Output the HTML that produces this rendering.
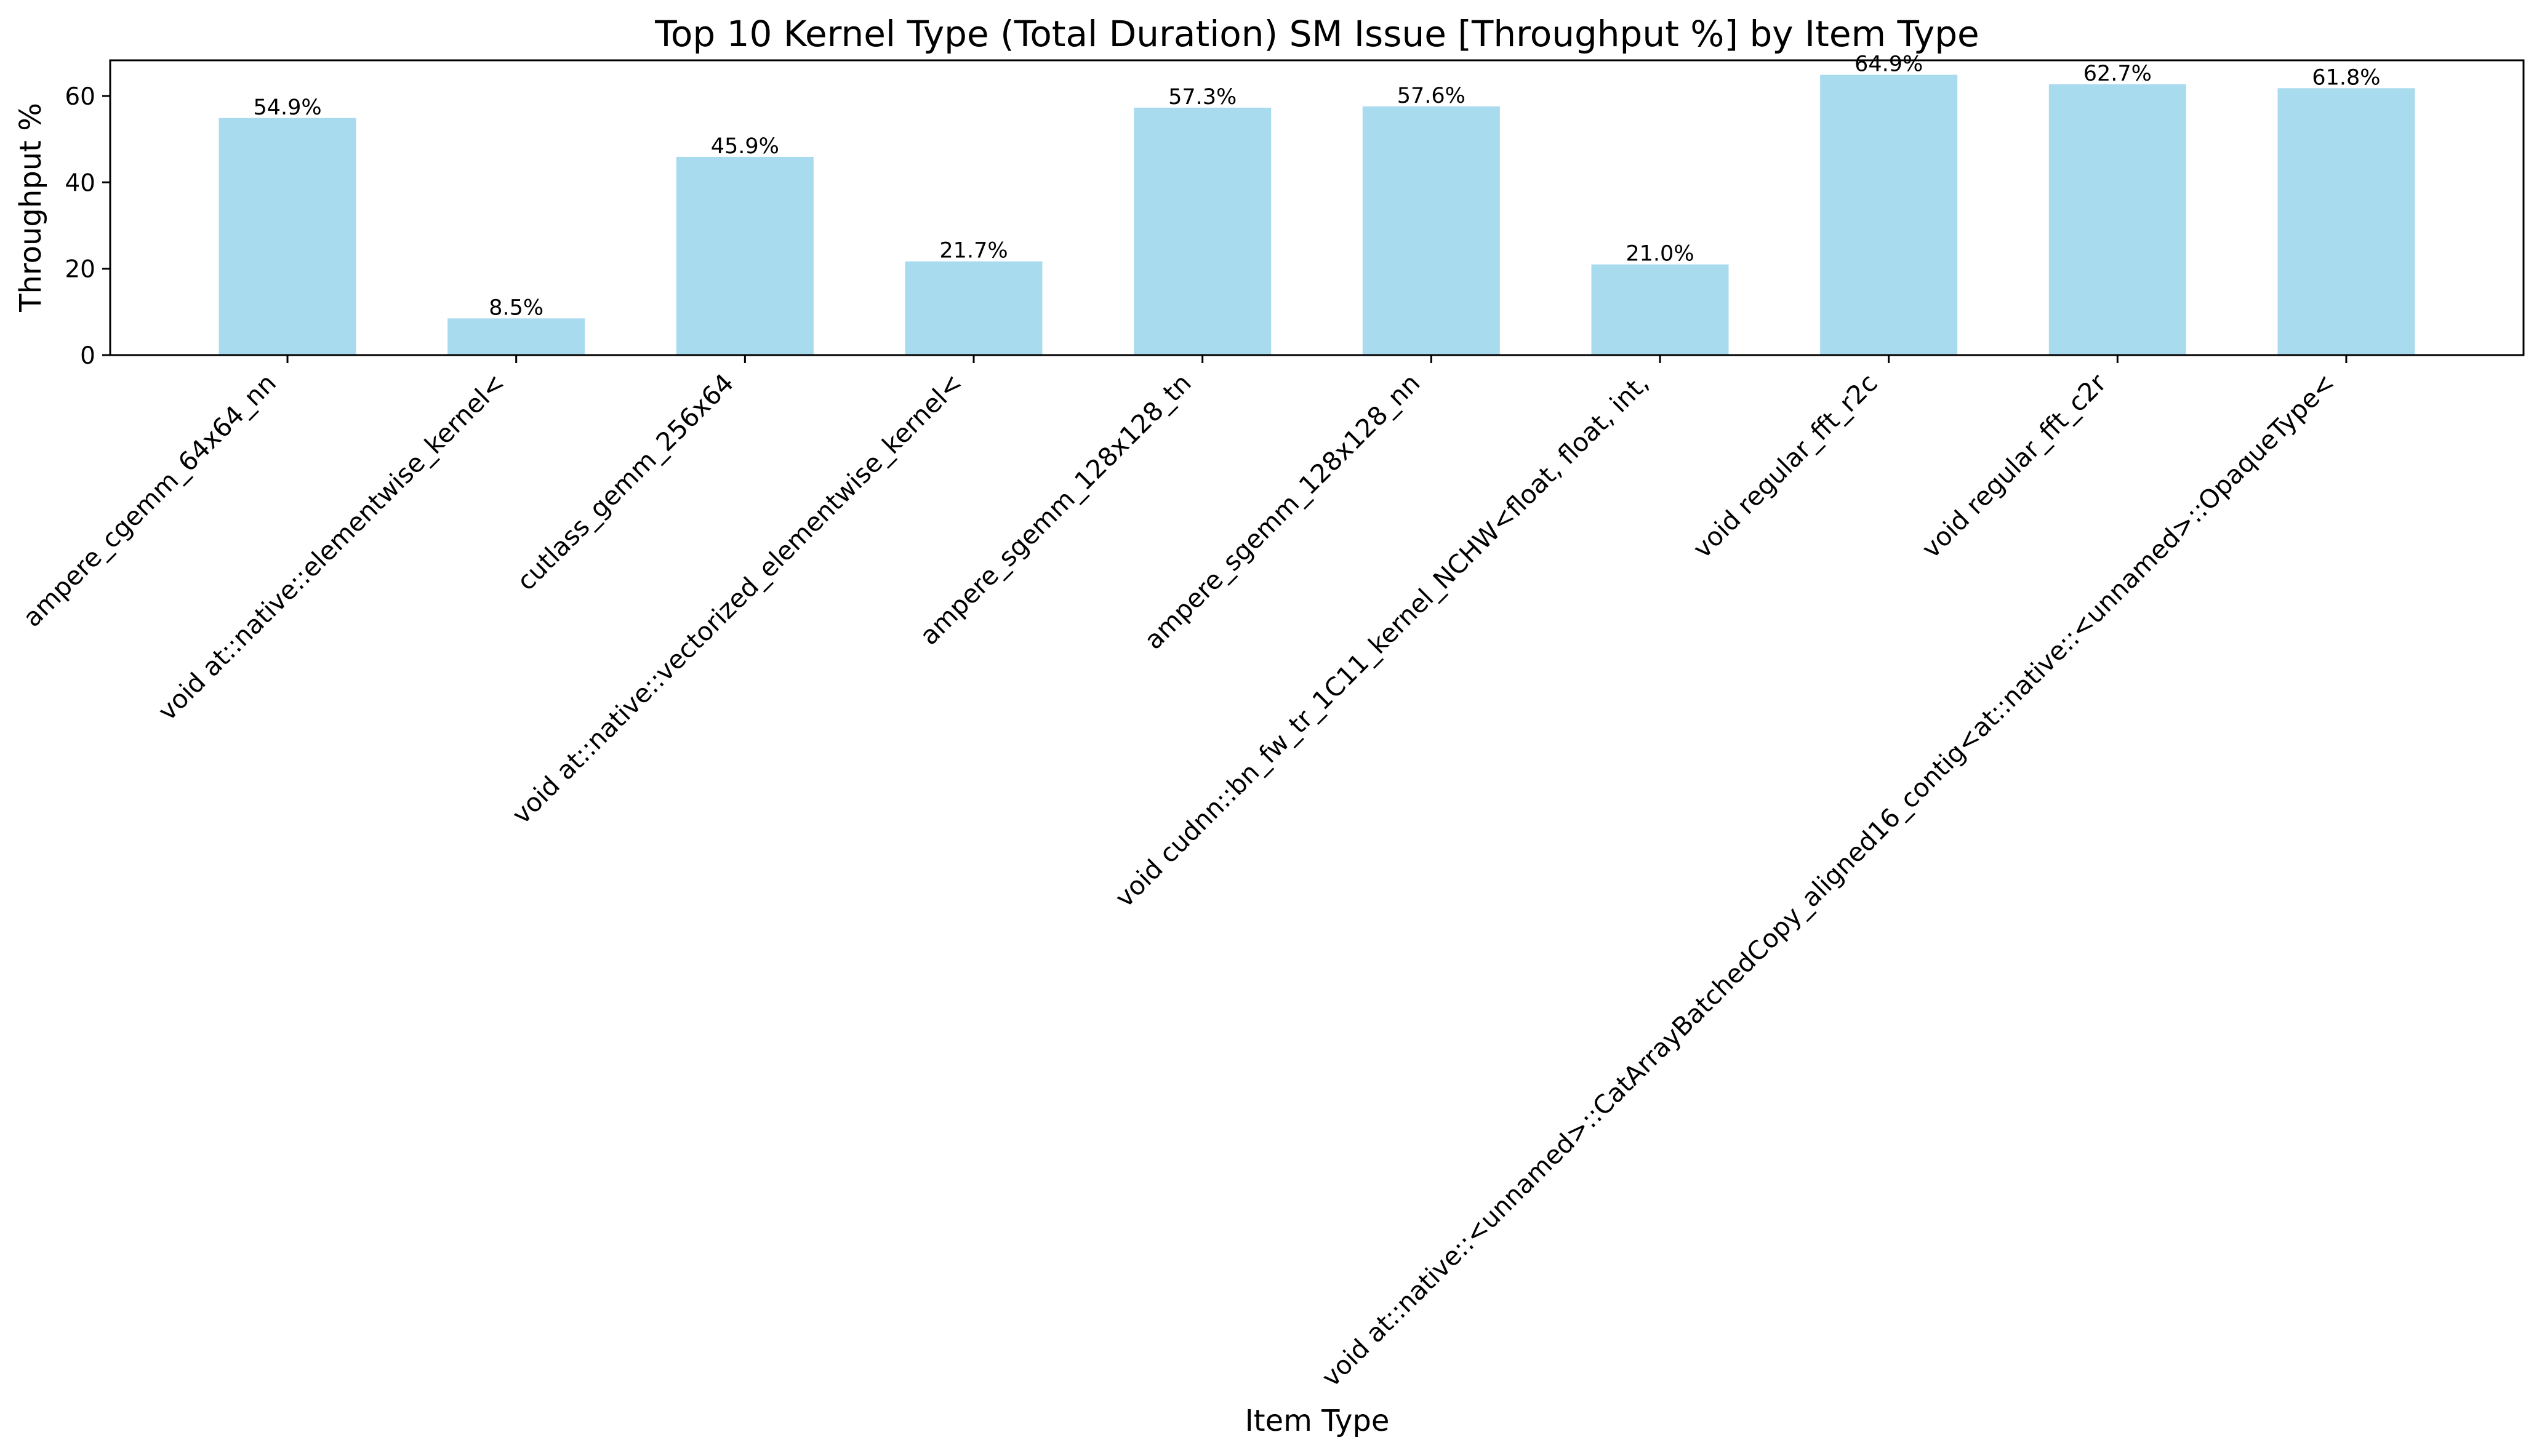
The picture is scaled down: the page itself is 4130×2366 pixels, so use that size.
<!DOCTYPE html>
<html><head><meta charset="utf-8"><style>
html,body{margin:0;padding:0;background:#fff;}
svg{display:block;font-family:"DejaVu Sans","Liberation Sans",sans-serif;}
</style></head><body>
<svg id="chart" width="4130" height="2366" viewBox="0 0 4130 2366" xmlns="http://www.w3.org/2000/svg">
<rect width="4130" height="2366" fill="#fff"/>
<text x="2140" y="75" font-size="58" text-anchor="middle">Top 10 Kernel Type (Total Duration) SM Issue [Throughput %] by Item Type</text>
<text transform="translate(66,337) rotate(-90)" font-size="48" text-anchor="middle">Throughput %</text>
<text x="2140" y="2325" font-size="48" text-anchor="middle">Item Type</text>
<g id="bars"></g><g id="ann"></g><g id="xt"></g><g id="yt"></g>
<rect x="179" y="98" width="3921" height="479" fill="none" stroke="#000" stroke-width="3"/>
</svg>
<script>
const categories = ["ampere_cgemm_64x64_nn","void at::native::elementwise_kernel<","cutlass_gemm_256x64","void at::native::vectorized_elementwise_kernel<","ampere_sgemm_128x128_tn","ampere_sgemm_128x128_nn","void cudnn::bn_fw_tr_1C11_kernel_NCHW<float, float, int,","void regular_fft_r2c","void regular_fft_c2r","void at::native::<unnamed>::CatArrayBatchedCopy_aligned16_contig<at::native::<unnamed>::OpaqueType<"];
const values = [54.9, 8.5, 45.9, 21.7, 57.3, 57.6, 21.0, 64.9, 62.7, 61.8];
const yTicks = [0, 20, 40, 60];

const NS = "http://www.w3.org/2000/svg";
const L=179,R=4100,T=98,B=577, xmin=-0.775, xmax=9.775, ymax=68.26;
const xs = i => L + (i - xmin) / (xmax - xmin) * (R - L);
const ys = v => B - v / ymax * (B - T);
const bw = 0.6 * (R - L) / (xmax - xmin);
function mk(tag, attrs, parent, txt){const e=document.createElementNS(NS,tag);for(const k in attrs)e.setAttribute(k,attrs[k]);if(txt!==undefined)e.textContent=txt;document.getElementById(parent).appendChild(e);return e;}
values.forEach((v,i)=>{
  const r = mk('rect',{x:xs(i)-bw/2,y:ys(v),width:bw,height:B-ys(v),fill:'#a9dbee'},'bars');
  
  
  const t = mk('text',{x:xs(i),y:ys(v)-6,'font-size':35,'text-anchor':'middle'},'ann',v.toFixed(1)+'%');
  
  
});
categories.forEach((c,i)=>{
  const tk = mk('line',{x1:xs(i),x2:xs(i),y1:B,y2:B+13,stroke:'#000','stroke-width':3},'xt');
  
  
  const t = mk('text',{transform:`translate(${xs(i)-16},${B+48}) rotate(-45)`,'font-size':41.5,'text-anchor':'end'},'xt',c);
  
  
});
yTicks.forEach(v=>{
  const tk = mk('line',{x1:L-13,x2:L,y1:ys(v),y2:ys(v),stroke:'#000','stroke-width':3},'yt');
  
  
  const t = mk('text',{x:L-24,y:ys(v)+14,'font-size':39,'text-anchor':'end'},'yt',String(v));
  
  
});
</script>
</body></html>
